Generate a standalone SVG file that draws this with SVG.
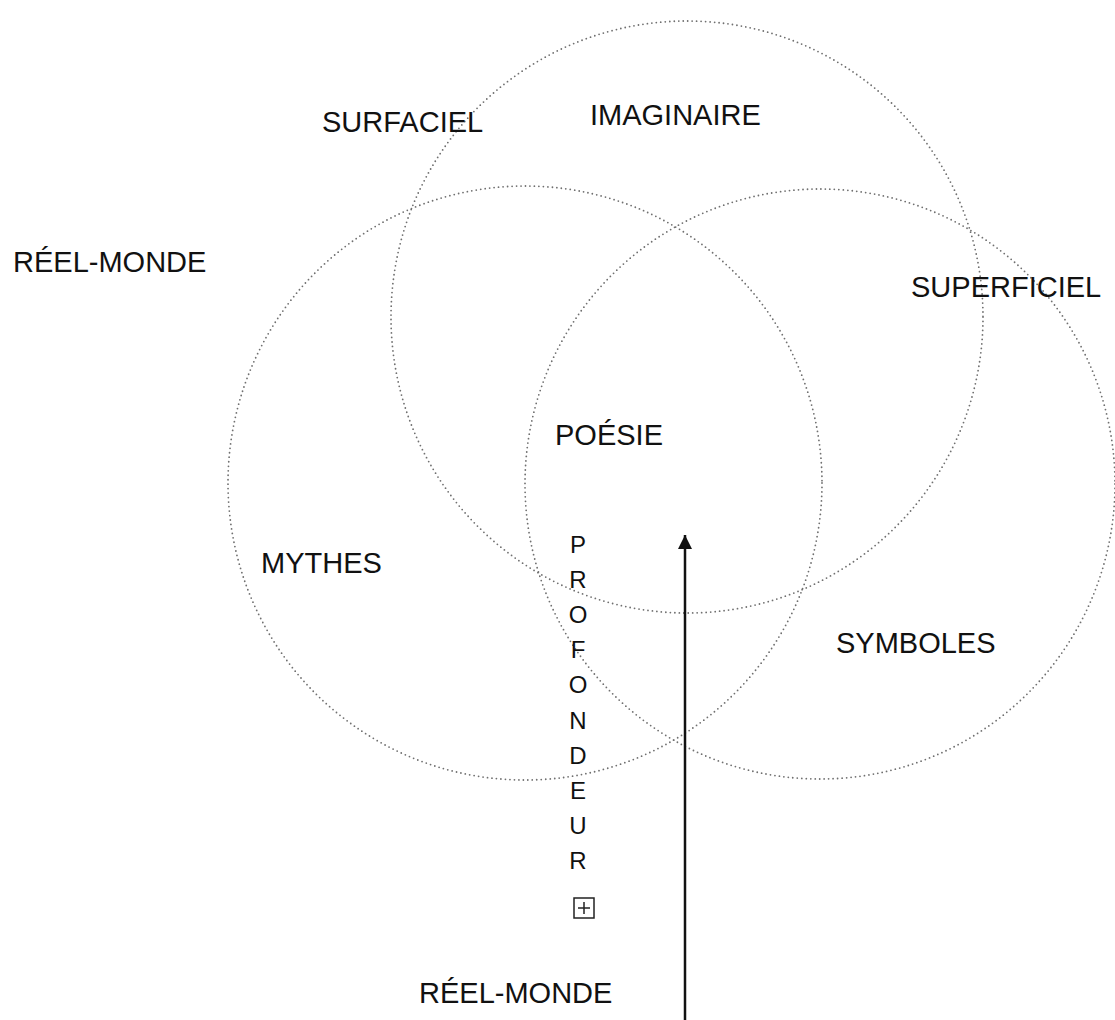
<svg xmlns="http://www.w3.org/2000/svg" width="1115" height="1020" viewBox="0 0 1115 1020">
<style>
.c{fill:none;stroke:#707070;stroke-width:1.8;stroke-dasharray:0 4.5;stroke-linecap:round}
.t{font-family:"Liberation Sans",Arial,sans-serif;font-size:29px;fill:#111}
.v{font-family:"Liberation Sans",Arial,sans-serif;font-size:24px;fill:#111;text-anchor:middle}
</style>
<defs>
<marker id="ah" viewBox="0 0 14 14" refX="14" refY="7" markerWidth="14" markerHeight="14" markerUnits="userSpaceOnUse" orient="auto">
<path d="M0,0 L14,7 L0,14 Z" fill="#111"/>
</marker>
</defs>
<rect width="1115" height="1020" fill="#fff"/>
<g id="circle-imaginaire"><circle class="c" cx="687" cy="317" r="296"/></g>
<g id="circle-mythes"><circle class="c" cx="525" cy="483" r="297"/></g>
<g id="circle-symboles"><circle class="c" cx="820" cy="484" r="295"/></g>
<g id="connectors">
<line x1="685" y1="1020" x2="685" y2="535" stroke="#111" stroke-width="2.5" marker-end="url(#ah)"/>
</g>
<g id="label-surfaciel"><text class="t" x="322" y="132">SURFACIEL</text></g>
<g id="label-imaginaire"><text class="t" x="590" y="125">IMAGINAIRE</text></g>
<g id="label-reel-monde-left"><text class="t" x="13" y="272">RÉEL-MONDE</text></g>
<g id="label-superficiel"><text class="t" x="911" y="297">SUPERFICIEL</text></g>
<g id="label-poesie"><text class="t" x="555" y="445">POÉSIE</text></g>
<g id="label-mythes"><text class="t" x="261" y="573">MYTHES</text></g>
<g id="label-symboles"><text class="t" x="836" y="653">SYMBOLES</text></g>
<g id="label-profondeur">
<text class="v" x="578" y="553">P</text>
<text class="v" x="578" y="588">R</text>
<text class="v" x="578" y="623">O</text>
<text class="v" x="578" y="658">F</text>
<text class="v" x="578" y="693">O</text>
<text class="v" x="578" y="729">N</text>
<text class="v" x="578" y="764">D</text>
<text class="v" x="578" y="799">E</text>
<text class="v" x="578" y="834">U</text>
<text class="v" x="578" y="869">R</text>
<rect x="574" y="898" width="20" height="20" fill="none" stroke="#222" stroke-width="1.5"/>
<line x1="578" y1="908" x2="590" y2="908" stroke="#222" stroke-width="1.5"/>
<line x1="584" y1="902" x2="584" y2="914" stroke="#222" stroke-width="1.5"/>
</g>
<g id="label-reel-monde-bottom"><text class="t" x="419" y="1003">RÉEL-MONDE</text></g>
</svg>
